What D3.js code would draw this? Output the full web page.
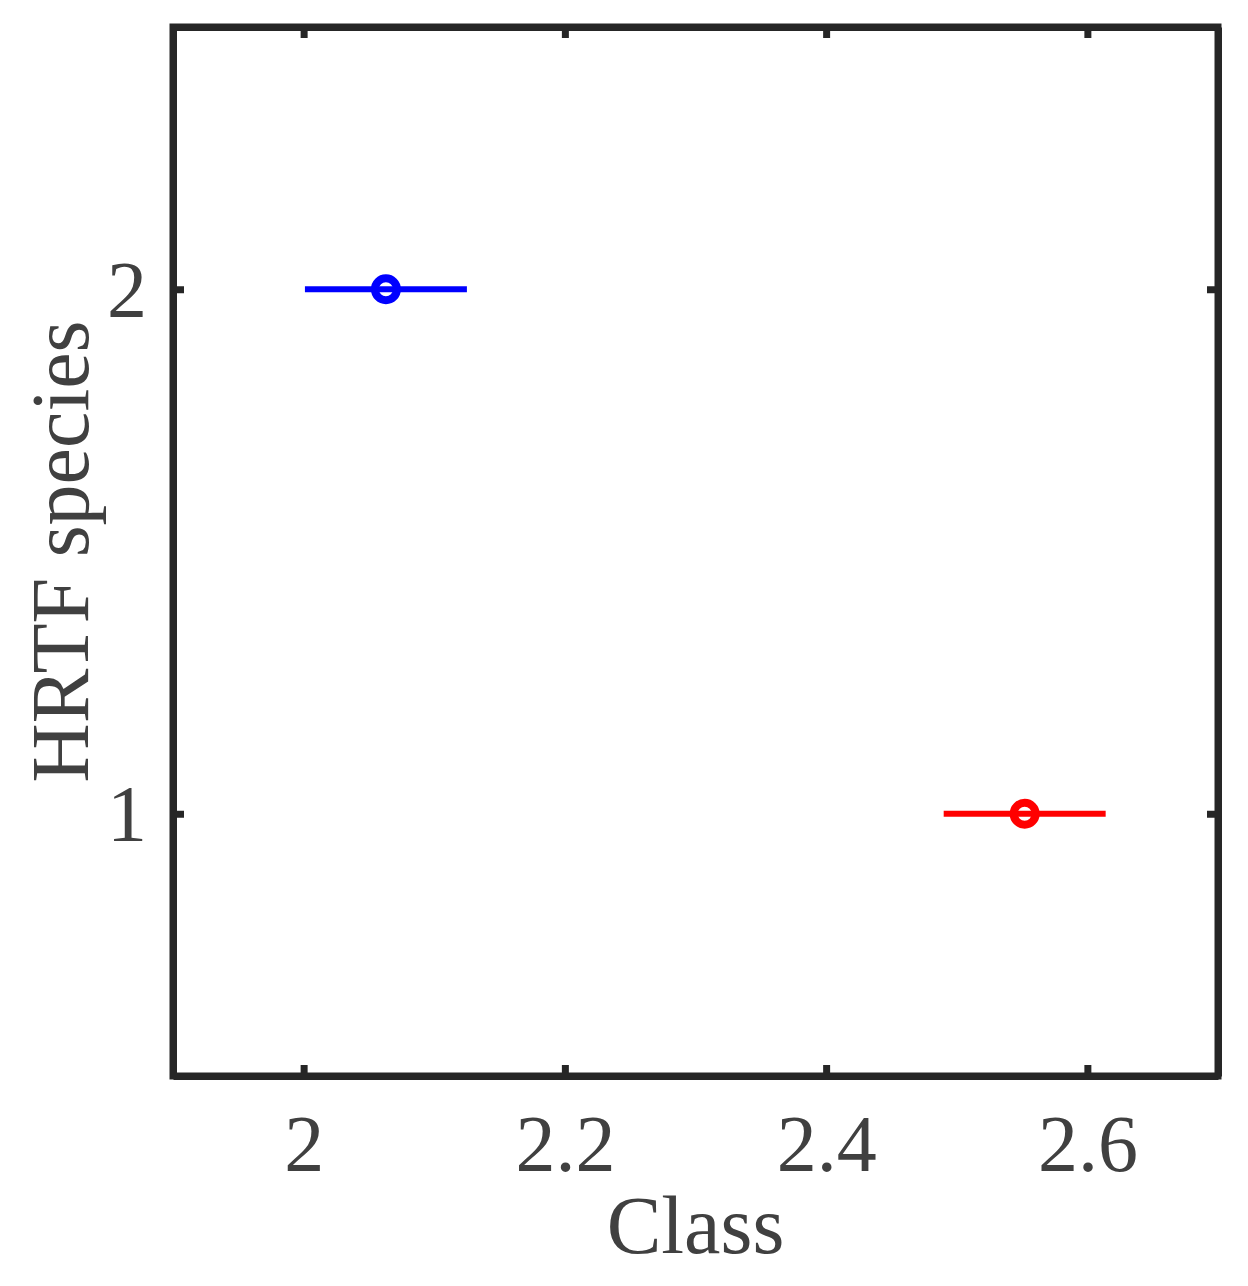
<!DOCTYPE html>
<html>
<head>
<meta charset="utf-8">
<script src="https://cdn.jsdelivr.net/npm/d3@7"></script>
<style>
  body { margin: 0; background: #fff; }
  svg { display: block; }
  text { font-family: "Palatino Linotype", "Book Antiqua", Palatino, "Liberation Serif", serif; fill: #404040; }
</style>
</head>
<body>
<div id="chart"></div>
<script>
// Data
const classes = [2.063, 2.552];          // x (Class) means
const classErr = [0.062, 0.062];          // horizontal error half-widths
const species = [2, 1];                   // y (HRTF species)
const colors = ['#0000ff', '#ff0000'];

const xTicks = [2, 2.2, 2.4, 2.6];
const xTickLabels = ['2', '2.2', '2.4', '2.6'];
const yTicks = [1, 2];
const yTickLabels = ['1', '2'];

const width = 1248, height = 1286;
const margin = { top: 27, right: 30, bottom: 210, left: 173 };
const frameColor = '#262626';

const svg = d3.select('#chart')
    .append('svg')
    .attr('width', width)
    .attr('height', height);

const x = d3.scaleLinear()
    .domain([1.9, 2.7])
    .range([margin.left, width - margin.right]);

const y = d3.scaleLinear()
    .domain([0.5, 2.5])
    .range([height - margin.bottom, margin.top]);

function styleAxis(g) {
    g.select('.domain').attr('stroke', frameColor).attr('stroke-width', 7);
    g.selectAll('.tick line').attr('stroke', frameColor).attr('stroke-width', 7);
    g.selectAll('.tick text').style('font-size', '80px').attr('fill', '#404040');
}

// bottom axis
svg.append('g')
    .attr('transform', `translate(0,${height - margin.bottom})`)
    .call(d3.axisBottom(x).tickValues(xTicks).tickFormat((d, i) => xTickLabels[i]).tickSize(-11).tickSizeOuter(0))
    .call(styleAxis)
    .call(g => g.selectAll('.tick text').attr('y', 95).attr('dy', 0));

// top axis
svg.append('g')
    .attr('transform', `translate(0,${margin.top})`)
    .call(d3.axisTop(x).tickValues(xTicks).tickFormat('').tickSize(-11).tickSizeOuter(0))
    .call(styleAxis);

// left axis
svg.append('g')
    .attr('transform', `translate(${margin.left},0)`)
    .call(d3.axisLeft(y).tickValues(yTicks).tickFormat((d, i) => yTickLabels[i]).tickSize(-11).tickSizeOuter(0))
    .call(styleAxis)
    .call(g => g.selectAll('.tick text').attr('x', -26).attr('dy', '0.34em'));

// right axis
svg.append('g')
    .attr('transform', `translate(${width - margin.right},0)`)
    .call(d3.axisRight(y).tickValues(yTicks).tickFormat('').tickSize(-11).tickSizeOuter(0))
    .call(styleAxis);

// square off the frame corners
svg.append('rect')
    .attr('x', margin.left)
    .attr('y', margin.top)
    .attr('width', width - margin.left - margin.right)
    .attr('height', height - margin.top - margin.bottom)
    .attr('fill', 'none')
    .attr('stroke', frameColor)
    .attr('stroke-width', 7);

const data = classes.map((c, i) => ({ x: c, err: classErr[i], y: species[i], color: colors[i] }));

// horizontal error bars
svg.selectAll('.errbar')
    .data(data)
    .enter()
    .append('line')
    .attr('class', 'errbar')
    .attr('x1', d => x(d.x - d.err))
    .attr('x2', d => x(d.x + d.err))
    .attr('y1', d => y(d.y))
    .attr('y2', d => y(d.y))
    .attr('stroke', d => d.color)
    .attr('stroke-width', 6);

// circle markers
svg.selectAll('.marker')
    .data(data)
    .enter()
    .append('circle')
    .attr('class', 'marker')
    .attr('cx', d => x(d.x))
    .attr('cy', d => y(d.y))
    .attr('r', 11)
    .attr('fill', 'none')
    .attr('stroke', d => d.color)
    .attr('stroke-width', 8);

// axis labels
svg.append('text')
    .attr('x', (margin.left + width - margin.right) / 2)
    .attr('y', 1253)
    .attr('text-anchor', 'middle')
    .style('font-size', '82px')
    .text('Class');

svg.append('text')
    .attr('transform', `translate(88,${(margin.top + height - margin.bottom) / 2}) rotate(-90)`)
    .attr('text-anchor', 'middle')
    .style('font-size', '82px')
    .text('HRTF species');
</script>
</body>
</html>
